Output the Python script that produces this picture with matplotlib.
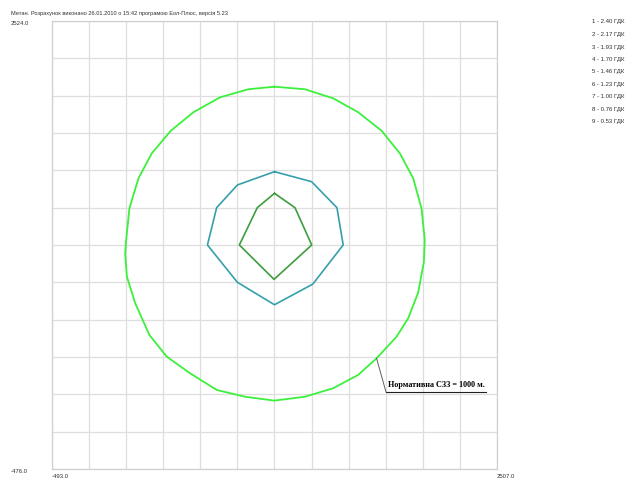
import matplotlib
matplotlib.use("Agg")
import matplotlib.pyplot as plt
from matplotlib.transforms import blended_transform_factory

# Calculation area, m
x_min, x_max = -493.0, 2507.0
y_min, y_max = -476.0, 2524.0
grid_step = 250

title = "Метан. Розрахунок виконано 26.01.2010 о 15:42 програмою Еол-Плюс, версія 5.23"

levels = ["1 - 2.40 ГДК", "2 - 2.17 ГДК", "3 - 1.93 ГДК", "4 - 1.70 ГДК",
          "5 - 1.46 ГДК", "6 - 1.23 ГДК", "7 - 1.00 ГДК", "8 - 0.76 ГДК",
          "9 - 0.53 ГДК"]

# Sanitary protection zone boundary (1000 m)
szz_x = [1006, 1212, 1403, 1571, 1729, 1852, 1942, 1998, 2020, 2014, 1975,
         1908, 1830, 1695, 1571, 1403, 1212, 1006, 808, 618, 438, 281, 164,
         68, 12, 0, 7, 29, 90, 180, 308, 460, 640, 831, 1006]
szz_y = [2084, 2067, 2006, 1913, 1789, 1638, 1471, 1270, 1058, 910, 703,
         533, 410, 265, 154, 65, 8, -18, 8, 53, 165, 276, 421,
         634, 812, 969, 1058, 1270, 1471, 1638, 1789, 1913, 2013, 2067, 2084]

# Concentration isolines
outer_x = [1007, 1257, 1428, 1470, 1265, 1007, 757, 555, 617, 757, 1007]
outer_y = [1515, 1448, 1274, 1024, 762, 624, 774, 1024, 1274, 1426, 1515]

inner_x = [1007, 1145, 1258, 1004, 770, 891, 1007]
inner_y = [1370, 1274, 1024, 794, 1024, 1274, 1370]

# Leader for the SZZ label
leader_x = [1695, 1758, 2431]
leader_y = [265, 42, 42]
szz_label = "Нормативна СЗЗ = 1000 м."

fig = plt.figure(figsize=(6.43, 4.79), dpi=100)
ax = fig.add_axes([52 / 643, 1 - 469 / 479, 445 / 643, 448 / 479])

ax.set_xlim(x_min, x_max)
ax.set_ylim(y_min, y_max)
ax.set_xticks([x_min + grid_step * k for k in range(13)])
ax.set_yticks([y_min + grid_step * k for k in range(13)])
ax.tick_params(length=0, labelbottom=False, labelleft=False)
ax.grid(True, color="#dedede", linewidth=0.9)
ax.set_axisbelow(True)
for s in ax.spines.values():
    s.set_color("#d0d0d0")
    s.set_linewidth(0.9)

ax.plot(szz_x, szz_y, color="#3cf03c", linewidth=1.3)
ax.plot(outer_x, outer_y, color="#35a0aa", linewidth=1.2)
ax.plot(inner_x, inner_y, color="#3d9e3d", linewidth=1.2)

ax.plot(leader_x[:2], leader_y[:2], color="#606060", linewidth=0.7)
ax.plot(leader_x[1:], leader_y[1:], color="#202020", linewidth=0.8)
ax.text(leader_x[1] + 15, leader_y[1] + 15, szz_label, family="Liberation Serif",
        fontsize=5.9, color="#000000", va="bottom", ha="left",
        fontweight="semibold")

small = dict(family="Liberation Sans", fontsize=4.3, color="#303030")
fig.text(11 / 643, 1 - 13 / 479, title, va="center", ha="left",
         **dict(small, fontsize=4.1))

# corner values of the calculation area
by_y = blended_transform_factory(fig.transFigure, ax.transData)
ax.text(11 / 643, y_max, f"{y_max:.1f}", transform=by_y, va="top", ha="left",
        **small)
ax.text(11 / 643, y_min, f"{y_min:.1f}", transform=by_y, va="top", ha="left",
        **small)
ax.text(x_min, -0.012, f"{x_min:.1f}", transform=ax.get_xaxis_transform(),
        va="top", ha="left", **small)
ax.text(x_max, -0.012, f"{x_max:.1f}", transform=ax.get_xaxis_transform(),
        va="top", ha="left", **small)

for i, lab in enumerate(levels):
    fig.text(592 / 643, 1 - (22 + 12.5 * i) / 479, lab, va="center",
             ha="left", **small)

fig.savefig("out.png", dpi=100)
